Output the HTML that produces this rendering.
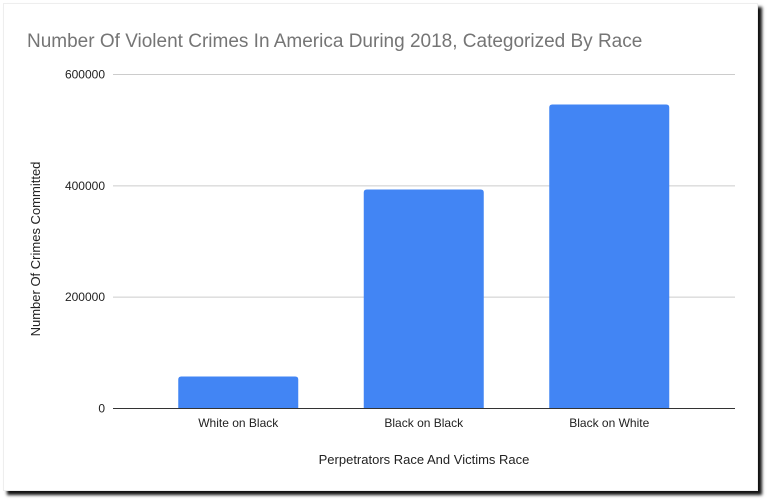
<!DOCTYPE html>
<html><head><meta charset="utf-8"><style>
body{margin:0;width:770px;height:502px;background:#fff;overflow:hidden;font-family:"Liberation Sans",Arial,sans-serif}
#card{position:absolute;left:3px;top:3px;width:753px;height:486px;background:#fff;box-shadow:4px 4px 3px #111;border:1px solid #eee}
</style></head><body>
<div id="card"></div>
<svg id="chart" width="770" height="502" style="position:absolute;left:0;top:0">
<text x="27" y="47" font-size="19" fill="#757575">Number Of Violent Crimes In America During 2018, Categorized By Race</text>
<text transform="translate(40,249) rotate(-90)" text-anchor="middle" font-size="13" fill="#222">Number Of Crimes Committed</text>
<text x="424" y="464" text-anchor="middle" font-size="13" fill="#222">Perpetrators Race And Victims Race</text>
<g id="grid"></g><g id="bars"></g><g id="xlabels"></g>
</svg>
<script>
const categories=["White on Black","Black on Black","Black on White"];
const values=[57500,393500,546000];
const yTicks=[0,200000,400000,600000];
const ns="http://www.w3.org/2000/svg";
const x0=113,x1=735,y0=408.5,yTop=74.5,yMax=600000;
const bandL=145.5,bandW=185.5,barW=120;
function y(v){return y0-(v/yMax)*(y0-yTop);}
function xc(i){return bandL+bandW*(i+0.5);}
const grid=document.getElementById('grid');
yTicks.forEach(t=>{
 const l=document.createElementNS(ns,'line');
 
 
 l.setAttribute('x1',x0);l.setAttribute('x2',x1);l.setAttribute('y1',y(t));l.setAttribute('y2',y(t));
 l.setAttribute('stroke',t===0?'#333':'#ccc');l.setAttribute('stroke-width','1');
 grid.appendChild(l);
 const tx=document.createElementNS(ns,'text');
 
 
 tx.setAttribute('x',105);tx.setAttribute('y',y(t)+4);tx.setAttribute('text-anchor','end');
 tx.setAttribute('font-size','12');tx.setAttribute('fill','#222');tx.textContent=t;
 grid.appendChild(tx);
});
const bars=document.getElementById('bars'),xl=document.getElementById('xlabels');
categories.forEach((c,i)=>{
 const r=document.createElementNS(ns,'path');
 
 
 const L=xc(i)-barW/2,R=xc(i)+barW/2,T=y(values[i]),B=y0-0.5,rr=3;
 r.setAttribute('d',`M${L},${B}V${T+rr}Q${L},${T} ${L+rr},${T}H${R-rr}Q${R},${T} ${R},${T+rr}V${B}Z`);
 r.setAttribute('fill','#4285f4');
 bars.appendChild(r);
 const t=document.createElementNS(ns,'text');
 
 
 t.setAttribute('x',xc(i));t.setAttribute('y',427);t.setAttribute('text-anchor','middle');
 t.setAttribute('font-size','12');t.setAttribute('fill','#222');t.textContent=c;
 xl.appendChild(t);
});
</script>
</body></html>
